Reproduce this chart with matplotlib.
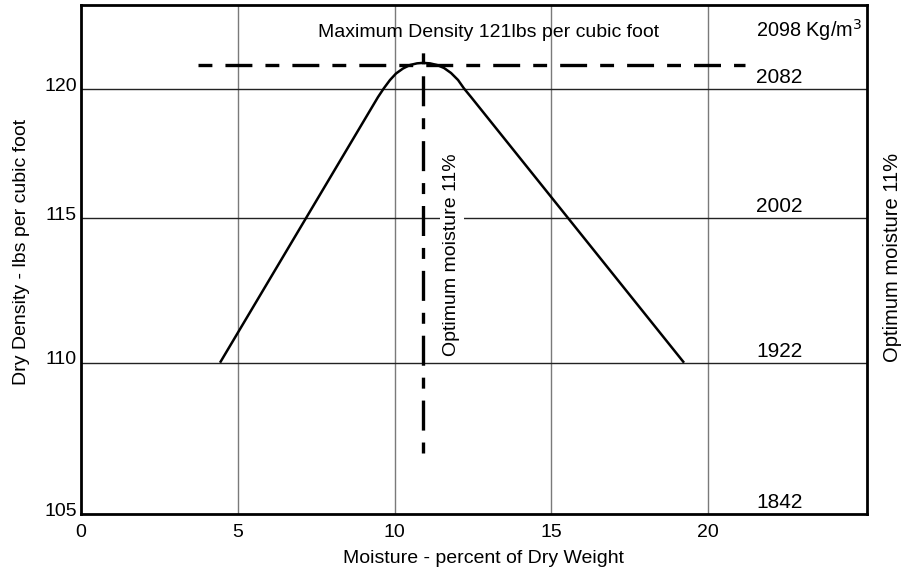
import numpy as np
import matplotlib
matplotlib.use("Agg")
import matplotlib.pyplot as plt
from matplotlib import transforms

plt.rcParams['font.family'] = ['Liberation Sans', 'DejaVu Sans']
plt.rcParams['lines.scale_dashes'] = False

# ---- data ----
moisture = [4.434, 9.474, 9.665, 9.856, 10.048, 10.271, 10.494, 10.718, 10.909,
            11.132, 11.356, 11.579, 11.802, 12.026, 12.217, 12.44, 19.234]
density = [110.0, 119.69, 120.04, 120.375, 120.646, 120.854, 121.0, 121.071, 121.092,
           121.071, 121.0, 120.875, 120.667, 120.375, 120.02, 119.69, 110.0]

max_density = 121
optimum_moisture = 10.9
max_line_x = [3.73, 21.18]
opt_line_y = [107.0, 121.65]

x_ticks = [0, 5, 10, 15, 20]
y_ticks = [105, 110, 115, 120]
kg_labels = ['1842', '1922', '2002', '2082']
kg_top_label = '2098 Kg/m$^3$'

# ---- y scale layout (non-uniform spacing as in the printed chart) ----
knot_vals = np.array([105.0, 110.0, 115.0, 120.0, 121.0, 123.6])
knot_pos = np.array([0.0, 151.3, 295.7, 425.0, 449.0, 509.0])

def fwd(v):
    return np.interp(v, knot_vals, knot_pos)

def inv(p):
    return np.interp(p, knot_pos, knot_vals)

fig = plt.figure(figsize=(9.06, 5.71), dpi=100)
ax = fig.add_axes([81/906, 1-514/571, 786/906, 509/571])
ax.set_yscale('function', functions=(fwd, inv))
ax.set_xlim(0, 25.07)
ax.set_ylim(105, 123.6)

# grid
for xv in x_ticks[1:]:
    ax.axvline(xv, color='#7a7a7a', lw=1.0, zorder=1)
for yv in y_ticks[1:]:
    ax.axhline(yv, color='#222222', lw=1.0, zorder=1)

# curve
ax.plot(moisture, density, color='black', lw=1.8, zorder=4,
        solid_capstyle='butt', solid_joinstyle='round')

# dashed reference lines
ax.plot(max_line_x, [max_density, max_density], color='black', lw=2.4,
        dashes=(10, 9.4, 19.4, 9.4), zorder=3, dash_capstyle='butt')
ax.plot([optimum_moisture, optimum_moisture], opt_line_y, color='black', lw=2.4,
        dashes=(7.9, 8.6, 21.6, 8.6), zorder=3, dash_capstyle='butt')

# ticks
ax.set_xticks(x_ticks)
ax.set_yticks(y_ticks)
ax.tick_params(axis='both', length=0, labelsize=14)
ax.tick_params(axis='x', pad=7)
ax.tick_params(axis='y', pad=3)
for lab in ax.get_yticklabels():
    lab.set_va('baseline')
    lab.set_transform(lab.get_transform() + transforms.ScaledTranslation(0, -1.5/100, fig.dpi_scale_trans))

for sp in ax.spines.values():
    sp.set_linewidth(2.0)
    sp.set_zorder(5)

# axis labels
ax.text((484-81)/786, (514-563)/509, 'Moisture - percent of Dry Weight', transform=ax.transAxes,
        ha='center', va='baseline', fontsize=14)
ax.text((22-81)/786, (514-252)/509, 'Dry Density - lbs per cubic foot', transform=ax.transAxes,
        ha='center', va='center', rotation=90, fontsize=14)

# annotations
ax.text((489-81)/786, (514-37)/509, 'Maximum Density 121lbs per cubic foot', transform=ax.transAxes,
        ha='center', va='baseline', fontsize=14)
ax.text((862-81)/786, (514-37)/509, kg_top_label, transform=ax.transAxes,
        ha='right', va='baseline', fontsize=14.3)
for yv, lab in zip(y_ticks, kg_labels):
    ax.annotate(lab, (22.27, yv), xytext=(0, 4.3), textcoords='offset points',
                ha='center', va='baseline', fontsize=15)

ax.text((452-81)/786, (514-255)/509, 'Optimum moisture 11%', transform=ax.transAxes,
        ha='center', va='center', rotation=90, fontsize=14, zorder=3.5,
        bbox=dict(facecolor='white', edgecolor='none', pad=2.5))
ax.text((892-81)/786, (514-257)/509, 'Optimum moisture 11%', transform=ax.transAxes,
        ha='center', va='center', rotation=90, fontsize=14.5, clip_on=False)

fig.savefig('out.png', dpi=100)
